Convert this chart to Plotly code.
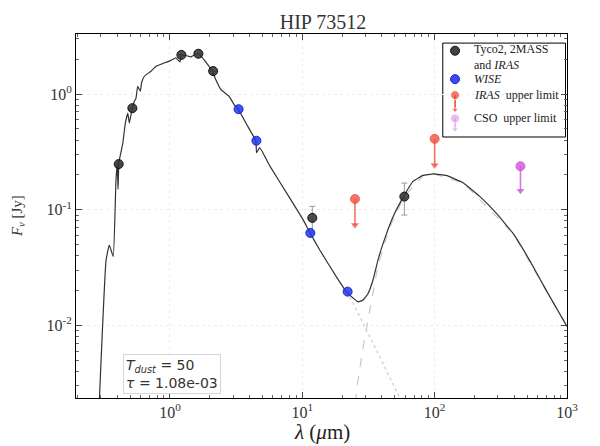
import plotly.graph_objects as go

# model SED, wavelength in micron, flux in Jy
model_wl = [0.285, 0.293, 0.329, 0.348, 0.373, 0.391, 0.400, 0.405, 0.412, 0.44, 0.46, 0.48,
            0.493, 0.517, 0.538, 0.554, 0.57, 0.597, 0.61, 0.64, 0.719, 0.784, 0.881, 0.989,
            1.11, 1.19, 1.22, 1.32, 1.44, 1.62, 1.76, 1.93, 2.07, 2.22, 2.43, 2.8, 3.06, 3.28,
            3.79, 4.46, 4.51, 4.77, 5.69, 7.6, 10.15, 11.4, 13.55, 18.1, 21.6, 24.9, 26.4, 28.8,
            31.4, 34.2, 37.3, 40.5, 48.5, 58.3, 68.6, 81.6, 98.2, 122, 164, 219, 292, 390, 521, 697, 1000]
model_fl = [0.001, 0.0023, 0.0367, 0.0496, 0.0393, 0.182, 0.25, 0.15, 0.26, 0.375, 0.56, 0.684,
            0.56, 0.741, 0.865, 0.923, 1.166, 1.06, 1.246, 1.425, 1.575, 1.741, 1.834, 1.924,
            2.056, 1.897, 2.16, 2.153, 2.098, 2.241, 2.056, 1.798, 1.608, 1.331, 1.09, 0.955, 0.807, 0.741,
            0.549, 0.393, 0.311, 0.344, 0.238, 0.14, 0.0818, 0.0635, 0.0449, 0.0263, 0.0195, 0.0168, 0.016, 0.0166,
            0.0189, 0.0247, 0.0367, 0.05, 0.087, 0.1305, 0.176, 0.198, 0.204, 0.198, 0.171, 0.1305, 0.0936, 0.0627, 0.0367, 0.0201, 0.0098]

dust_wl = [25.3, 25.6, 28.8, 32.3, 37.3, 45.7, 58.3, 81.6, 98.2, 164, 390, 1000]
dust_fl = [0.0015, 0.0027, 0.0065, 0.0135, 0.033, 0.07, 0.128, 0.197, 0.204, 0.171, 0.0627, 0.0098]

star_wl = [21.6, 24.2, 36.3, 54.4, 60]
star_fl = [0.0195, 0.0155, 0.0061, 0.0024, 0.0019]

# photometry
phot_wl = [0.41, 0.52, 1.22, 1.64, 2.12, 11.9, 59]
phot_fl = [0.248, 0.755, 2.18, 2.23, 1.58, 0.085, 0.13]
phot_err = [0, 0, 0, 0, 0, 0.022, 0.04]

wise_wl = [3.3, 4.5, 11.5, 22]
wise_fl = [0.74, 0.395, 0.063, 0.0196]

iras_ul_wl = [25, 100]
iras_ul_fl = [0.124, 0.41]
iras_ul_tip = [0.074, 0.243]

cso_wl = [445]
cso_fl = [0.238]
cso_tip = [0.146]

x_ticks = [1, 10, 100, 1000]
x_labels = ["10<sup>0</sup>", "10<sup>1</sup>", "10<sup>2</sup>", "10<sup>3</sup>"]
y_ticks = [0.01, 0.1, 1]
y_labels = ["10<sup>-2</sup>", "10<sup>-1</sup>", "10<sup>0</sup>"]
x_minor = [m * d for d in [0.1, 1, 10, 100] for m in range(2, 10)]
y_minor = [m * d for d in [0.001, 0.01, 0.1, 1] for m in range(2, 10)]

serif = "Liberation Serif"
red = "rgba(240,70,55,0.75)"
violet = "rgba(205,85,220,0.8)"

fig = go.Figure()

fig.add_trace(go.Scatter(x=dust_wl, y=dust_fl, mode="lines",
                         line=dict(color="#c8c8c8", width=1.2, dash="dash")))
fig.add_trace(go.Scatter(x=star_wl, y=star_fl, mode="lines",
                         line=dict(color="#cccccc", width=1.2, dash="dot")))
fig.add_trace(go.Scatter(x=model_wl, y=model_fl, mode="lines",
                         line=dict(color="#333333", width=1.2, shape="spline", smoothing=0.3)))

fig.add_trace(go.Scatter(x=phot_wl, y=phot_fl, mode="markers",
                         marker=dict(size=9, color="rgba(45,45,45,0.85)", line=dict(color="#111", width=1)),
                         error_y=dict(type="data", array=phot_err, color="#999999", thickness=1, width=3)))
fig.add_trace(go.Scatter(x=wise_wl, y=wise_fl, mode="markers",
                         marker=dict(size=9, color="rgba(35,55,235,0.85)", line=dict(color="#1a2ad0", width=1))))

# upper limits: marker + stem + arrow head
for wl, fl, tip, col in [(iras_ul_wl, iras_ul_fl, iras_ul_tip, red), (cso_wl, cso_fl, cso_tip, violet)]:
    for w, f, t in zip(wl, fl, tip):
        fig.add_trace(go.Scatter(x=[w, w], y=[f, t], mode="lines", line=dict(color=col, width=1.6)))
    fig.add_trace(go.Scatter(x=wl, y=tip, mode="markers",
                             marker=dict(symbol="triangle-down", size=7, color=col)))
    fig.add_trace(go.Scatter(x=wl, y=fl, mode="markers",
                             marker=dict(size=9, color=col, line=dict(color=col, width=1))))

# hand made legend on an overlay axis
lx = 0.772
fig.add_trace(go.Scatter(x=[lx], y=[0.954], xaxis="x2", yaxis="y2", mode="markers",
                         marker=dict(size=9, color="rgba(45,45,45,0.9)", line=dict(color="#111", width=1))))
fig.add_trace(go.Scatter(x=[lx], y=[0.876], xaxis="x2", yaxis="y2", mode="markers",
                         marker=dict(size=9, color="rgba(35,55,235,0.9)", line=dict(color="#1a2ad0", width=1))))
fig.add_trace(go.Scatter(x=[lx, lx], y=[0.832, 0.792], xaxis="x2", yaxis="y2", mode="lines",
                         line=dict(color="#e8402a", width=1.5)))
fig.add_trace(go.Scatter(x=[lx, lx], y=[0.832, 0.792], xaxis="x2", yaxis="y2", mode="markers",
                         marker=dict(symbol=["circle", "triangle-down"], size=[9, 6], color="#ee4428")))
fig.add_trace(go.Scatter(x=[lx, lx], y=[0.768, 0.738], xaxis="x2", yaxis="y2", mode="lines",
                         line=dict(color="rgba(220,150,240,0.9)", width=1.5)))
fig.add_trace(go.Scatter(x=[lx, lx], y=[0.768, 0.738], xaxis="x2", yaxis="y2", mode="markers",
                         marker=dict(symbol=["circle", "triangle-down"], size=[9, 6], color="rgba(220,150,240,0.9)")))

fig.add_shape(type="rect", xref="paper", yref="paper", x0=0.747, x1=0.997, y0=0.717, y1=0.975,
              line=dict(color="black", width=1), fillcolor="white", layer="below")

leg_font = dict(family=serif, size=12, color="#222")
for txt, yy in [("Tyco2, 2MASS<br>and <i>IRAS</i>", 0.937), ("<i>WISE</i>", 0.876),
                ("<i>IRAS</i>  upper limit", 0.832), ("CSO  upper limit", 0.768)]:
    fig.add_annotation(x=0.806, y=yy, xref="paper", yref="paper", text=txt, showarrow=False,
                       xanchor="left", yanchor="middle", align="left", font=leg_font)

fig.add_annotation(x=0.095, y=0.012, xref="paper", yref="paper", xanchor="left", yanchor="bottom",
                   align="left", showarrow=False, bordercolor="#d5d5d5", borderwidth=1, borderpad=2,
                   bgcolor="white",
                   text="<i>T</i><sub><i>dust</i></sub> = 50<br><i>τ</i> = 1.08e-03",
                   font=dict(family="DejaVu Sans", size=14, color="#333"))

# axis titles
fig.add_annotation(x=0.5, y=-0.093, xref="paper", yref="paper", xanchor="center", yanchor="middle",
                   showarrow=False, text="<i>λ</i> (<i>μ</i>m)",
                   font=dict(family=serif, size=21, color="#222"))
fig.add_annotation(x=-0.118, y=0.5, xref="paper", yref="paper", xanchor="center", yanchor="middle",
                   showarrow=False, textangle=-90, text="<i>F</i><sub><i>ν</i></sub> [Jy]",
                   font=dict(family=serif, size=15, color="#333"))

axis_common = dict(type="log", ticks="inside", mirror="allticks", showline=True, linecolor="black",
                   linewidth=1, ticklen=6, tickcolor="#444", showgrid=True, gridcolor="#eeeeee",
                   griddash="dot", zeroline=False,
                   tickfont=dict(family=serif, size=16, color="#333"))

# the page puts the figure 8 px in from the top left corner, margins allow for it
fig.update_layout(
    width=600, height=446, showlegend=False,
    paper_bgcolor="white", plot_bgcolor="white",
    margin=dict(l=68, r=41, t=26, b=56),
    title=dict(text="HIP 73512", x=0.525, y=0.968, xanchor="center", yanchor="middle",
               font=dict(family=serif, size=20, color="#333")),
    xaxis=dict(axis_common, range=[-0.71, 3], tickvals=x_ticks, ticktext=x_labels,
               minor=dict(tickvals=x_minor, ticks="inside", ticklen=3, tickcolor="#666", showgrid=False)),
    yaxis=dict(axis_common, range=[-2.627, 0.519], tickvals=y_ticks, ticktext=y_labels,
               minor=dict(tickvals=y_minor, ticks="inside", ticklen=3, tickcolor="#666", showgrid=False)),
    xaxis2=dict(overlaying="x", range=[0, 1], visible=False, fixedrange=True),
    yaxis2=dict(overlaying="y", range=[0, 1], visible=False, fixedrange=True),
)

fig.write_html("out.html")
